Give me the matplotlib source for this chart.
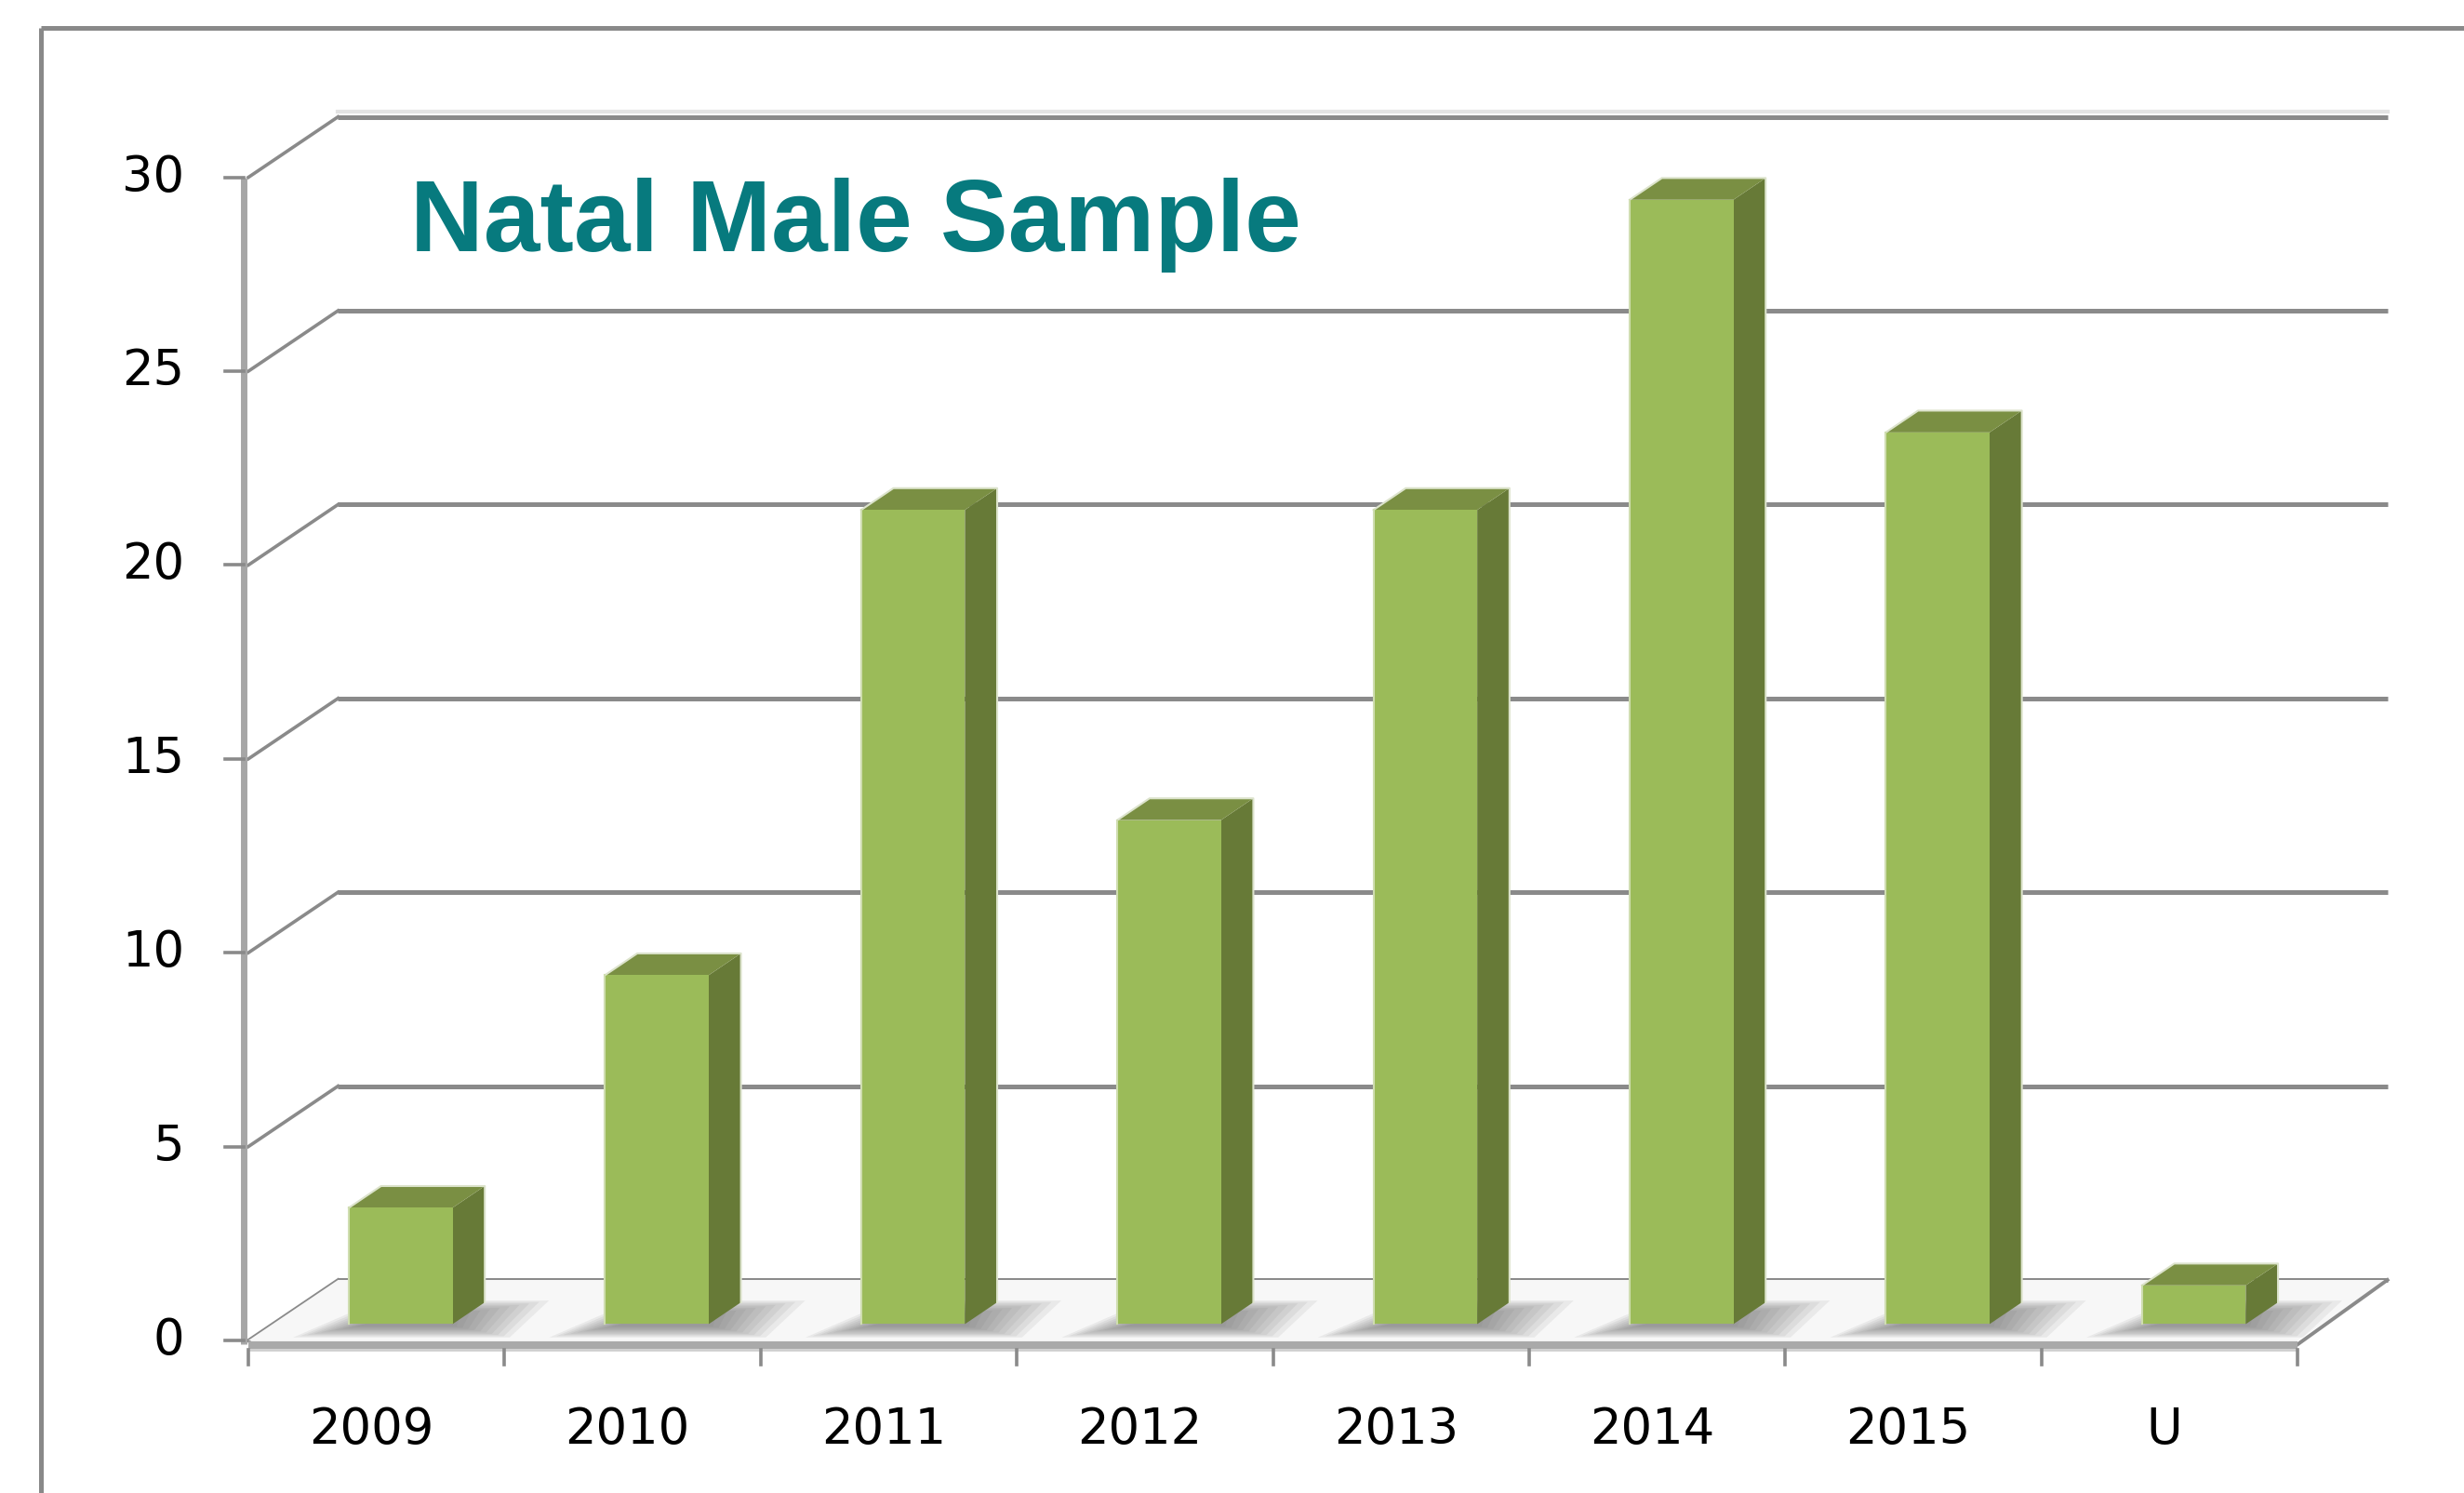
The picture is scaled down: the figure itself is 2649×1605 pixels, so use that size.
import numpy as np
import matplotlib.pyplot as plt
from matplotlib.patches import Polygon

# data
categories = ['2009', '2010', '2011', '2012', '2013', '2014', '2015', 'U']
counts = [3, 9, 21, 13, 21, 29, 23, 1]
y_ticks = [0, 5, 10, 15, 20, 25, 30]
title = 'Natal Male Sample'

# fake 3d: how far the back wall is pushed (in category / count units)
DX, DY = 0.35, 1.56
BAR_W = 0.405
F0, F1 = 0.27, 0.63   # bar depth, as fraction of the floor depth

front_c = '#9BBB59'
side_c = '#677A37'
top_c = '#7A8F43'
grid_c = '#8A8A8A'
axis_c = '#A6A6A6'


def p(c, v, f):
    # point at category c, value v, pushed back by depth fraction f
    return (c + f * DX, v + f * DY)


fig = plt.figure(figsize=(26.49, 16.05), dpi=100)
ax = fig.add_axes([0, 0, 1, 1])
ax.set_xlim(-0.9695, 8.649)
ax.set_ylim(-3.935, 34.574)
ax.axis('off')

n = len(categories)

# outer chart frame (top and left only visible)
ax.plot([-0.81, -0.81], [-10, 33.85], color='#898989', lw=3.6, solid_capstyle='butt')
ax.plot([-0.81, 20], [33.85, 33.85], color='#898989', lw=3.6, solid_capstyle='butt')

# back wall gridlines + left wall diagonals
ax.plot([DX, n + DX], [30 + DY + 0.14] * 2, color='#E3E3E3', lw=3, zorder=1)
for t in y_ticks:
    ax.plot([DX, n + DX], [t + DY, t + DY], color=grid_c, lw=3.6, zorder=1,
            solid_capstyle='butt')
    ax.plot([0, DX], [t, t + DY], color=grid_c, lw=2.6, zorder=1)

# floor
floor = Polygon([(0, 0), (n, 0), (n + DX, DY), (DX, DY)], closed=True,
                fc='#F7F7F7', ec='none', zorder=2)
ax.add_patch(floor)
ax.plot([n, n + DX], [-0.1, DY], color=grid_c, lw=2.8, zorder=5)

# soft shadows on the floor
for i, v in enumerate(counts):
    cl = i + 0.5 - BAR_W / 2
    cr = cl + BAR_W
    for k in range(10):
        s = k * 0.02
        shp = [p(cl - 0.14 + s, 0, 0.05 + s), p(cr + 0.3 - s * 1.5, 0, 0.05 + s),
               p(cr + 0.24 - s * 1.5, 0, 0.66 - s * 1.2), p(cl - 0.02 + s, 0, 0.66 - s * 1.2)]
        ax.add_patch(Polygon(shp, closed=True, fc='#6E6E6E', ec='none',
                             alpha=0.1, zorder=3))

# bars
for i, v in enumerate(counts):
    cl = i + 0.5 - BAR_W / 2
    cr = cl + BAR_W
    side = [p(cr, 0, F0), p(cr, 0, F1), p(cr, v, F1), p(cr, v, F0)]
    top = [p(cl, v, F0), p(cr, v, F0), p(cr, v, F1), p(cl, v, F1)]
    face = [p(cl, 0, F0), p(cr, 0, F0), p(cr, v, F0), p(cl, v, F0)]
    ax.add_patch(Polygon(side, closed=True, fc=side_c, ec='none', zorder=4))
    ax.add_patch(Polygon(top, closed=True, fc=top_c, ec='none', zorder=4))
    ax.add_patch(Polygon(face, closed=True, fc=front_c, ec='none', zorder=4))
    # pale rim
    xs, ys = zip(p(cl, v, F0), p(cl, v, F1), p(cr, v, F1), p(cr, 0, F1))
    ax.plot(xs, ys, color='#DCE3CC', lw=1.5, zorder=4)
    xs, ys = zip(p(cl, 0, F0), p(cl, v, F0))
    ax.plot(xs, ys, color='#CFDDB0', lw=1.5, zorder=4)

# floor front edge, value axis, ticks
ax.plot([0, n], [-0.12, -0.12], color='#A9A9A9', lw=6, zorder=5, solid_capstyle='butt')
ax.plot([0, n], [-0.25, -0.25], color='#CFCFCF', lw=2, zorder=5, solid_capstyle='butt')
ax.plot([-0.018, -0.018], [-0.1, 30], color=axis_c, lw=5, zorder=5, solid_capstyle='butt')
for t in y_ticks:
    ax.plot([-0.09, -0.018], [t, t], color=grid_c, lw=2.6, zorder=5)
    ax.text(-0.25, t, str(t), ha='right', va='center', fontsize=38,
            family='DejaVu Sans', color='black')
for i in range(n + 1):
    ax.plot([i, i], [-0.25, -0.62], color=grid_c, lw=2.6, zorder=5)
for i, lab in enumerate(categories):
    ax.text(i + 0.48, -2.3, lab, ha='center', va='center', fontsize=38,
            family='DejaVu Sans', color='black')

ax.text(0.632, 28.1, title, ha='left', va='baseline', fontsize=78.5,
        fontweight='bold', color='#077A7E', family='Liberation Sans')

plt.savefig('out.png', dpi=100)
